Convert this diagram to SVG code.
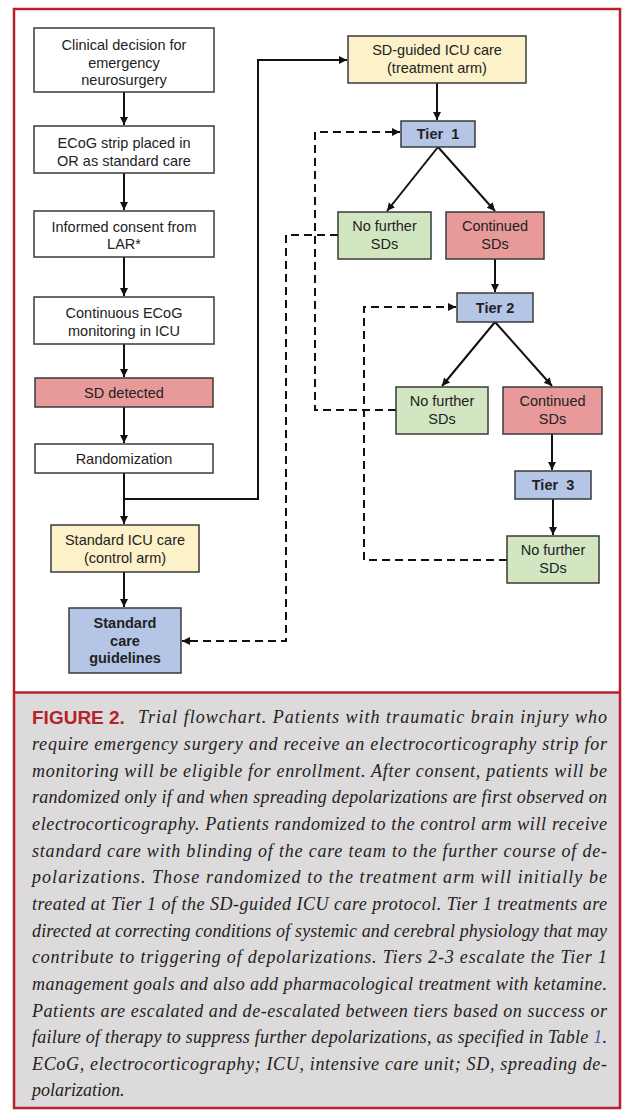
<svg xmlns="http://www.w3.org/2000/svg" width="625" height="1111" viewBox="0 0 625 1111">
<defs>
<style>
.n{stroke:#3a3a3a;stroke-width:1.5}
.w{fill:#ffffff}.y{fill:#fcf1c9}.r{fill:#e8999a}.g{fill:#d3e6c2}.b{fill:#b4c5e6}
.t{font-family:"Liberation Sans",Arial,sans-serif;font-size:14.5px;fill:#222;text-anchor:middle}
.bd{font-weight:bold}
.c{stroke:#111;stroke-width:2;fill:none}
.d{stroke-dasharray:8,5}
.cap{font-family:"Liberation Serif","Times New Roman",serif;font-style:italic;font-size:18px;fill:#222}
</style>
<marker id="ah" markerUnits="userSpaceOnUse" markerWidth="9" markerHeight="9" refX="8" refY="4" orient="auto">
<path d="M0,0 L8,4 L0,8 z" fill="#111"/>
</marker>
</defs>
<rect x="0" y="0" width="625" height="1111" fill="#ffffff"/>
<rect x="14" y="693" width="606" height="415" fill="#dcdadb"/>
<rect x="14" y="9" width="606" height="1099" fill="none" stroke="#b8202a" stroke-width="2.5"/>
<line x1="14" y1="692.5" x2="620" y2="692.5" stroke="#b8202a" stroke-width="2.5"/>

<g id="connectors">
<line class="c" x1="124" y1="92" x2="124" y2="125" marker-end="url(#ah)"/>
<line class="c" x1="124" y1="173" x2="124" y2="210" marker-end="url(#ah)"/>
<line class="c" x1="124" y1="257" x2="124" y2="296" marker-end="url(#ah)"/>
<line class="c" x1="124" y1="344" x2="124" y2="377" marker-end="url(#ah)"/>
<line class="c" x1="124" y1="407" x2="124" y2="443" marker-end="url(#ah)"/>
<line class="c" x1="124" y1="473" x2="124" y2="524" marker-end="url(#ah)"/>
<line class="c" x1="124" y1="572" x2="124" y2="607" marker-end="url(#ah)"/>
<polyline class="c" points="124,499 258,499 258,60 347,60" marker-end="url(#ah)"/>
<line class="c" x1="437" y1="83" x2="437" y2="120" marker-end="url(#ah)"/>
<line class="c" x1="438" y1="147" x2="387" y2="211" marker-end="url(#ah)"/>
<line class="c" x1="438" y1="147" x2="495" y2="211" marker-end="url(#ah)"/>
<line class="c" x1="495" y1="259" x2="495" y2="292" marker-end="url(#ah)"/>
<line class="c" x1="495" y1="322" x2="442" y2="386" marker-end="url(#ah)"/>
<line class="c" x1="495" y1="322" x2="552" y2="386" marker-end="url(#ah)"/>
<line class="c" x1="552" y1="434" x2="552" y2="470" marker-end="url(#ah)"/>
<line class="c" x1="553" y1="499" x2="553" y2="535" marker-end="url(#ah)"/>
<polyline class="c d" points="338,235 286,235 286,641 182,641" marker-end="url(#ah)"/>
<polyline class="c d" points="396,410 315,410 315,132 400,132" marker-end="url(#ah)"/>
<polyline class="c d" points="507,560 364,560 364,307 456,307" marker-end="url(#ah)"/>
</g>

<g id="n1"><rect class="n w" x="34" y="28" width="180" height="64"/>
<text class="t" x="124" y="50">Clinical decision for</text><text class="t" x="124" y="67.5">emergency</text><text class="t" x="124" y="85">neurosurgery</text></g>
<g id="n2"><rect class="n w" x="34" y="126" width="180" height="47"/>
<text class="t" x="124" y="148">ECoG strip placed in</text><text class="t" x="124" y="165.5">OR as standard care</text></g>
<g id="n3"><rect class="n w" x="34" y="211" width="180" height="46"/>
<text class="t" x="124" y="231.5">Informed consent from</text><text class="t" x="124" y="249">LAR*</text></g>
<g id="n4"><rect class="n w" x="34" y="297" width="180" height="47"/>
<text class="t" x="124" y="318">Continuous ECoG</text><text class="t" x="124" y="335.5">monitoring in ICU</text></g>
<g id="n5"><rect class="n r" x="35" y="378" width="178" height="29"/>
<text class="t" x="124" y="397.5">SD detected</text></g>
<g id="n6"><rect class="n w" x="35" y="444" width="178" height="29"/>
<text class="t" x="124" y="463.5">Randomization</text></g>
<g id="n7"><rect class="n y" x="51" y="525" width="148" height="47"/>
<text class="t" x="125" y="545">Standard ICU care</text><text class="t" x="125" y="562.5">(control arm)</text></g>
<g id="n8"><rect class="n b" x="69" y="608" width="112" height="65"/>
<text class="t bd" x="125" y="628">Standard</text><text class="t bd" x="125" y="645.5">care</text><text class="t bd" x="125" y="663">guidelines</text></g>

<g id="n9"><rect class="n y" x="348" y="36" width="178" height="47"/>
<text class="t" x="437" y="55">SD-guided ICU care</text><text class="t" x="437" y="72.5">(treatment arm)</text></g>
<g id="n10"><rect class="n b" x="401" y="121" width="74" height="26"/>
<text class="t bd" x="438" y="139" xml:space="preserve">Tier  1</text></g>
<g id="n11"><rect class="n g" x="338" y="212" width="93" height="47"/>
<text class="t" x="384.5" y="231">No further</text><text class="t" x="384.5" y="248.5">SDs</text></g>
<g id="n12"><rect class="n r" x="446" y="212" width="98" height="47"/>
<text class="t" x="495" y="231">Continued</text><text class="t" x="495" y="248.5">SDs</text></g>
<g id="n13"><rect class="n b" x="457" y="293" width="76" height="29"/>
<text class="t bd" x="495" y="312.5">Tier 2</text></g>
<g id="n14"><rect class="n g" x="396" y="387" width="92" height="47"/>
<text class="t" x="442" y="406">No further</text><text class="t" x="442" y="423.5">SDs</text></g>
<g id="n15"><rect class="n r" x="503" y="387" width="99" height="47"/>
<text class="t" x="552.5" y="406">Continued</text><text class="t" x="552.5" y="423.5">SDs</text></g>
<g id="n16"><rect class="n b" x="515" y="471" width="76" height="28"/>
<text class="t bd" x="553" y="490" xml:space="preserve">Tier  3</text></g>
<g id="n17"><rect class="n g" x="507" y="536" width="92" height="47"/>
<text class="t" x="553" y="555">No further</text><text class="t" x="553" y="572.5">SDs</text></g>

<g id="caption">
<text x="32" y="724" style="font-family:'Liberation Sans',Arial,sans-serif;font-weight:bold;font-size:19px;fill:#b5222b">FIGURE 2.</text>
<text class="cap" x="138" y="723" textLength="469" lengthAdjust="spacing">Trial flowchart. Patients with traumatic brain injury who</text>
<text class="cap" x="32" y="750" textLength="575" lengthAdjust="spacing">require emergency surgery and receive an electrocorticography strip for</text>
<text class="cap" x="32" y="776.5" textLength="575" lengthAdjust="spacing">monitoring will be eligible for enrollment. After consent, patients will be</text>
<text class="cap" x="32" y="803" textLength="575" lengthAdjust="spacing">randomized only if and when spreading depolarizations are first observed on</text>
<text class="cap" x="32" y="830" textLength="575" lengthAdjust="spacing">electrocorticography. Patients randomized to the control arm will receive</text>
<text class="cap" x="32" y="856.5" textLength="575" lengthAdjust="spacing">standard care with blinding of the care team to the further course of de-</text>
<text class="cap" x="32" y="883" textLength="575" lengthAdjust="spacing">polarizations. Those randomized to the treatment arm will initially be</text>
<text class="cap" x="32" y="910" textLength="575" lengthAdjust="spacing">treated at Tier 1 of the SD-guided ICU care protocol. Tier 1 treatments are</text>
<text class="cap" x="32" y="936.5" textLength="575" lengthAdjust="spacing">directed at correcting conditions of systemic and cerebral physiology that may</text>
<text class="cap" x="32" y="963" textLength="575" lengthAdjust="spacing">contribute to triggering of depolarizations. Tiers 2-3 escalate the Tier 1</text>
<text class="cap" x="32" y="990" textLength="575" lengthAdjust="spacing">management goals and also add pharmacological treatment with ketamine.</text>
<text class="cap" x="32" y="1016.5" textLength="575" lengthAdjust="spacing">Patients are escalated and de-escalated between tiers based on success or</text>
<text class="cap" x="32" y="1043" textLength="575" lengthAdjust="spacing">failure of therapy to suppress further depolarizations, as specified in Table <tspan fill="#3a5bb0">1</tspan>.</text>
<text class="cap" x="32" y="1070" textLength="575" lengthAdjust="spacing">ECoG, electrocorticography; ICU, intensive care unit; SD, spreading de-</text>
<text class="cap" x="32" y="1096">polarization.</text>
</g>
</svg>
